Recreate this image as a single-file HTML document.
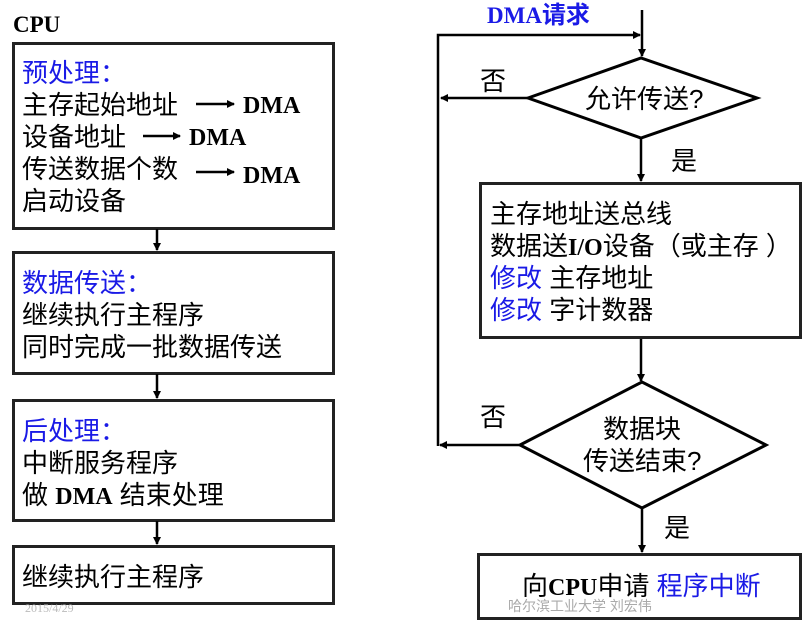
<!DOCTYPE html>
<html><head><meta charset="utf-8"><style>
body{margin:0;width:805px;height:623px;background:#fff;overflow:hidden;position:relative;font-family:"Liberation Serif","Noto Serif CJK SC","Noto Sans CJK SC",serif}
.t{position:absolute;font-size:26px;line-height:26px;white-space:nowrap;color:#000}
.b{color:#1a1ae6}
.bx{position:absolute;border:3px solid #222;box-sizing:border-box}
.s{font-family:"Liberation Sans","Noto Sans CJK SC",sans-serif}
.B{font-weight:bold;font-family:"Liberation Serif",serif;font-size:24px}
</style></head><body>
<div class="bx" style="left:12px;top:42px;width:323px;height:188px"></div>
<div class="bx" style="left:12px;top:251px;width:323px;height:124px"></div>
<div class="bx" style="left:12px;top:399px;width:323px;height:123px"></div>
<div class="bx" style="left:12px;top:545px;width:323px;height:60px"></div>
<div class="bx" style="left:479px;top:182px;width:323px;height:157px"></div>
<div class="bx" style="left:477px;top:553px;width:325px;height:67px"></div>
<svg width="805" height="623" style="position:absolute;left:0;top:0">
<defs><marker id="a" markerWidth="8" markerHeight="8" refX="7" refY="4" orient="auto" markerUnits="userSpaceOnUse"><path d="M0,0 L8,4 L0,8 Z" fill="#000"/></marker></defs>
<g stroke="#000" stroke-width="2.5" fill="none">
<line x1="157" y1="229" x2="157" y2="250" marker-end="url(#a)"/>
<line x1="157" y1="374" x2="157" y2="398" marker-end="url(#a)"/>
<line x1="157" y1="521" x2="157" y2="544" marker-end="url(#a)"/>
<line x1="196" y1="104" x2="234" y2="104" marker-end="url(#a)"/>
<line x1="143" y1="136" x2="180" y2="136" marker-end="url(#a)"/>
<line x1="196" y1="172" x2="234" y2="172" marker-end="url(#a)"/>
<line x1="642" y1="10" x2="642" y2="56" marker-end="url(#a)"/>
<polyline points="438,446 438,35 640,35" marker-end="url(#a)"/>
<polygon points="528,98 641,58 757,98 641,138" stroke-width="3"/>
<line x1="528" y1="98" x2="441" y2="98" marker-end="url(#a)"/>
<line x1="641" y1="138" x2="641" y2="181" marker-end="url(#a)"/>
<line x1="641" y1="339" x2="641" y2="381" marker-end="url(#a)"/>
<polygon points="520,445 642,382 766,445 642,508" stroke-width="3"/>
<line x1="520" y1="445" x2="440" y2="445" marker-end="url(#a)"/>
<line x1="642" y1="508" x2="642" y2="552" marker-end="url(#a)"/>
</g></svg>
<div class="t B" style="left:13px;top:12px;font-size:23px">CPU</div>
<div class="t s b" style="left:22px;top:60px">预处理：</div>
<div class="t s" style="left:22px;top:92px">主存起始地址</div><div class="t B" style="left:243px;top:93px">DMA</div>
<div class="t s" style="left:22px;top:124px">设备地址</div><div class="t B" style="left:189px;top:125px">DMA</div>
<div class="t s" style="left:22px;top:156px">传送数据个数</div><div class="t B" style="left:243px;top:163px">DMA</div>
<div class="t s" style="left:22px;top:188px">启动设备</div>
<div class="t s b" style="left:22px;top:270px">数据传送：</div>
<div class="t s" style="left:22px;top:302px">继续执行主程序</div>
<div class="t s" style="left:22px;top:334px">同时完成一批数据传送</div>
<div class="t s b" style="left:22px;top:418px">后处理：</div>
<div class="t s" style="left:22px;top:450px">中断服务程序</div>
<div class="t s" style="left:22px;top:482px">做 <b class="B">DMA</b> 结束处理</div>
<div class="t s" style="left:22px;top:564px">继续执行主程序</div>
<div class="t" style="left:25px;top:595px;font-size:12px;color:#bbb">2015/4/29</div>
<div class="t B b" style="left:487px;top:3px;font-size:23px">DMA<span class="s" style="font-size:24px">请求</span></div>
<div class="t s" style="left:480px;top:68px">否</div>
<div class="t s" style="left:585px;top:86px">允许传送?</div>
<div class="t s" style="left:671px;top:148px">是</div>
<div class="t s" style="left:490px;top:201px">主存地址送总线</div>
<div class="t s" style="left:490px;top:233px">数据送<b class="B">I/O</b>设备（或主存 ）</div>
<div class="t s" style="left:490px;top:265px"><span class="b">修改</span> 主存地址</div>
<div class="t s" style="left:490px;top:297px"><span class="b">修改</span> 字计数器</div>
<div class="t s" style="left:480px;top:404px">否</div>
<div class="t s" style="left:603px;top:416px">数据块</div>
<div class="t s" style="left:583px;top:448px">传送结束?</div>
<div class="t s" style="left:664px;top:515px">是</div>
<div class="t s" style="left:522px;top:573px">向<b class="B">CPU</b>申请 <span class="b">程序中断</span></div>
<div class="t s" style="left:508px;top:593px;font-size:14px;color:#aaa">哈尔滨工业大学 刘宏伟</div>
</body></html>
